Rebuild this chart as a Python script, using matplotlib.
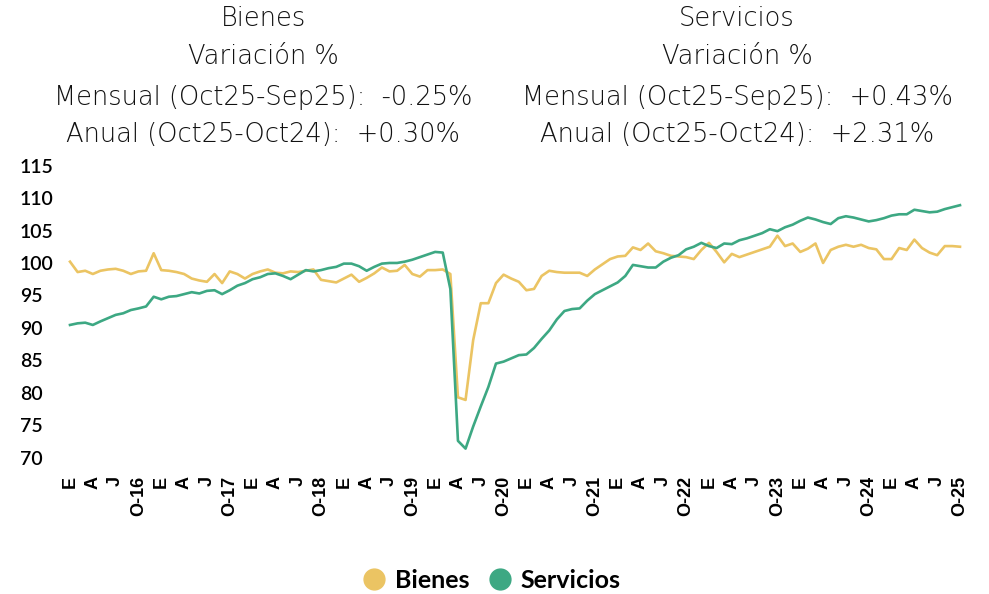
import matplotlib
matplotlib.use("Agg")
import matplotlib.pyplot as plt
from matplotlib.lines import Line2D

# Monthly index, Jan-2016 .. Oct-2025 (118 months)
BIENES = [
    100.2, 98.6, 98.8, 98.3, 98.8, 99.0, 99.1, 98.8, 98.3, 98.7, 98.8, 101.5,
    98.9, 98.8, 98.6, 98.3, 97.6, 97.3, 97.1, 98.3, 96.9, 98.7, 98.3, 97.6,
    98.3, 98.7, 99.0, 98.5, 98.4, 98.7, 98.6, 98.8, 99.0, 97.4, 97.2, 97.0,
    97.6, 98.2, 97.1, 97.7, 98.4, 99.3, 98.7, 98.8, 99.7, 98.3, 97.9, 98.9,
    98.9, 99.0, 98.3, 79.3, 78.9, 88.1, 93.8, 93.8, 96.9, 98.2, 97.6, 97.1,
    95.8, 96.0, 98.0, 98.8, 98.6, 98.5, 98.5, 98.5, 98.0, 99.0, 99.8, 100.6,
    101.0, 101.1, 102.4, 102.0, 103.0, 101.8, 101.5, 101.1, 101.0, 100.9, 100.6, 102.0,
    103.1, 101.7, 100.1, 101.4, 100.9, 101.3, 101.7, 102.1, 102.5, 104.2, 102.6, 103.0,
    101.7, 102.2, 103.0, 100.0, 102.0, 102.5, 102.8, 102.5, 102.8, 102.3, 102.1, 100.6,
    100.6, 102.3, 102.0, 103.6, 102.3, 101.6, 101.2, 102.6, 102.6, 102.5,
]
SERVICIOS = [
    90.45, 90.7, 90.8, 90.45, 91.0, 91.5, 92.0, 92.25, 92.75, 93.0, 93.3, 94.8,
    94.4, 94.8, 94.9, 95.2, 95.5, 95.3, 95.7, 95.8, 95.2, 95.8, 96.5, 96.9,
    97.5, 97.8, 98.3, 98.4, 98.0, 97.5, 98.2, 98.9, 98.7, 98.9, 99.2, 99.4,
    99.9, 99.9, 99.5, 98.8, 99.4, 99.9, 100.0, 100.0, 100.2, 100.5, 100.9, 101.3,
    101.7, 101.6, 96.0, 72.6, 71.4, 74.8, 77.9, 80.9, 84.5, 84.8, 85.3, 85.8,
    85.9, 86.9, 88.3, 89.6, 91.3, 92.6, 92.9, 93.0, 94.2, 95.2, 95.8, 96.4,
    97.0, 98.0, 99.7, 99.5, 99.3, 99.3, 100.2, 100.8, 101.2, 102.1, 102.5, 103.1,
    102.6, 102.3, 103.0, 102.9, 103.5, 103.8, 104.2, 104.6, 105.2, 104.9, 105.5, 105.9,
    106.5, 107.0, 106.7, 106.3, 106.0, 106.9, 107.2, 107.0, 106.7, 106.4, 106.6, 106.9,
    107.3, 107.5, 107.5, 108.2, 108.0, 107.8, 107.9, 108.3, 108.6, 108.9,
]
YEARS = list(range(2016, 2026))
YTICKS = [70, 75, 80, 85, 90, 95, 100, 105, 110, 115]

HEAD_BIENES = ["Bienes", "Variación %",
               "Mensual (Oct25-Sep25):  -0.25%", "Anual (Oct25-Oct24):  +0.30%"]
HEAD_SERV = ["Servicios", "Variación %",
             "Mensual (Oct25-Sep25):  +0.43%", "Anual (Oct25-Oct24):  +2.31%"]

YELLOW = "#EBC463"
GREEN = "#3DA883"

# x tick labels: E, A, J, O-yy every three months
tick_pos, tick_lab = [], []
for k, yr in enumerate(YEARS):
    for m, lab in zip([0, 3, 6, 9], ["E", "A", "J", f"O-{yr % 100}"]):
        tick_pos.append(12 * k + m)
        tick_lab.append(lab)

W, H = 989, 594
fig = plt.figure(figsize=(W / 100, H / 100), dpi=100)
ax = fig.add_axes([70 / W, 1 - 457.7 / H, 890 / W, (457.7 - 165.6) / H])

x = range(len(BIENES))
ax.plot(x, BIENES, color=YELLOW, lw=1.9, clip_on=False)
ax.plot(x, SERVICIOS, color=GREEN, lw=1.9, clip_on=False)

ax.set_xlim(0, len(BIENES) - 1)
ax.set_ylim(70, 115)
ax.set_yticks(YTICKS)
ax.set_yticklabels([str(v) for v in YTICKS], ha="left",
                   fontsize=14, fontfamily="Lato", fontweight="semibold")
ax.set_xticks(tick_pos)
ax.set_xticklabels(tick_lab, rotation=90, fontsize=13,
                   fontfamily="Liberation Sans", fontweight="bold")
ax.tick_params(axis="y", length=0, pad=36)
ax.tick_params(axis="x", length=0, pad=13)
for s in ax.spines.values():
    s.set_visible(False)

# header text blocks
rows_y = [18, 57, 97, 135]
for cx, lines in [(263, HEAD_BIENES), (737, HEAD_SERV)]:
    for yy, txt in zip(rows_y, lines):
        fig.text(cx / W, 1 - yy / H, txt, ha="center", va="center",
                 fontsize=18.5, fontfamily="DejaVu Sans", fontweight="light",
                 color="#111111")

handles = [Line2D([], [], ls="", marker="o", ms=15, color=YELLOW),
           Line2D([], [], ls="", marker="o", ms=15, color=GREEN)]
fig.legend(handles, ["Bienes", "Servicios"], loc="center",
           bbox_to_anchor=(491 / W, 1 - 580 / H), ncol=2, frameon=False,
           handlelength=1.0, handletextpad=0.35, columnspacing=0.7,
           prop={"family": "Lato", "weight": "bold", "size": 18})

fig.savefig("out.png", dpi=100)
